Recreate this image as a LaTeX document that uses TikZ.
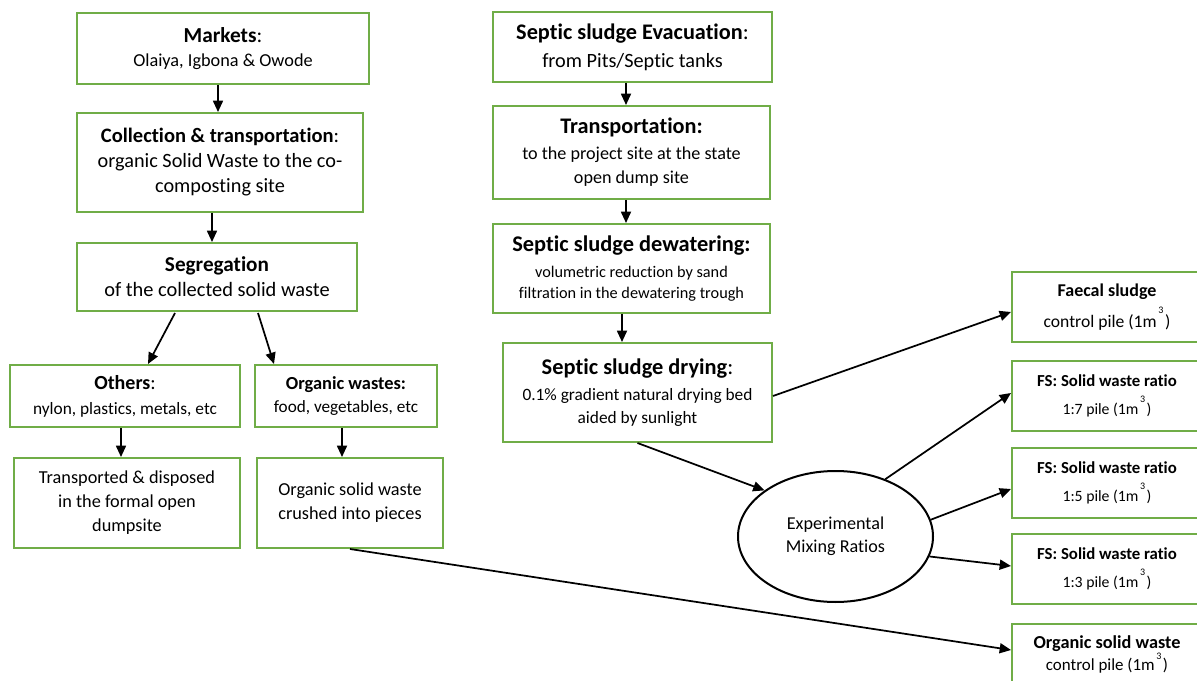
\documentclass[tikz,border=0pt]{standalone}
\usepackage{fontspec}
\setmainfont{Carlito}[RawFeature={-liga;-clig;-calt;-dlig}]
\usetikzlibrary{shapes.geometric,arrows.meta,calc}
\definecolor{boxgreen}{RGB}{112,173,71}
\newcommand\fsz[2]{\fontsize{#1}{#2}\selectfont}
\newcommand\ttl[2]{{\fontsize{#1}{#1}\selectfont\bfseries #2}}
\newcommand\ttlc[2]{{\fontsize{#1}{#1}\selectfont\textbf{#2}:}}
\newcommand\cubed[1][0.8em]{\kern1.2pt\smash{\raisebox{#1}{\fontsize{7.5}{7.5}\selectfont 3}}\kern1.2pt}
\begin{document}
\begin{tikzpicture}[x=0.75pt,y=-0.75pt,
  box/.style={draw=boxgreen, line width=1.5pt, fill=white, align=center, inner sep=0pt},
  sz/.style 2 args={minimum width=#1*0.75pt, minimum height=#2*0.75pt},
  arr/.style={-{Triangle[length=8.5pt,width=7.5pt]}, line width=1.3pt, black},
  ell/.style={draw=black, line width=1.5pt, ellipse, align=center, inner sep=0pt}]
\useasboundingbox (0,0) rectangle (1197,681);
\clip (0,0) rectangle (1197,681);
\fill[white] (0,0) rectangle (1197,681);
% left column
\node[box, sz={292}{71}, font=\fsz{13.7}{18}] (mk) at (223,48.5) {\ttlc{16}{Markets}\\ Olaiya, Igbona \& Owode};
\node[box, sz={286}{99}, font=\fsz{15.2}{18.75}] (col) at (220,162.5) {\ttlc{15.4}{Collection \& transportation}\\ organic Solid Waste to the co-\\ composting site};
\node[box, sz={280}{68}, font=\fsz{15.3}{18.75}] (seg) at (217,277) {\ttl{15.9}{Segregation}\\ of the collected solid waste};
\node[box, sz={230}{62}, font=\fsz{13}{18.75}] (oth) at (125,396) {\ttlc{15}{Others}\\ nylon, plastics, metals, etc};
\node[box, sz={182}{62}, font=\fsz{12.9}{17.25}] (orgw) at (346,396) {\ttl{13.8}{Organic wastes:}\\ food, vegetables, etc};
\node[box, sz={226}{90}, font=\fsz{13.7}{18}] (trd) at (127,503) {Transported \& disposed\\ in the formal open\\ dumpsite};
\node[box, sz={186}{90}, font=\fsz{13.7}{18}] (crs) at (350,503) {Organic solid waste\\ crushed into pieces};
% middle column
\node[box, sz={279}{70}, font=\fsz{15.2}{21}] (evac) at (632.5,47) {\ttlc{16.7}{Septic sludge Evacuation}\\ from Pits/Septic tanks};
\node[box, sz={277}{93}, font=\fsz{13.6}{18}] (tra) at (631.5,152.5) {\ttl{16.7}{Transportation:}\\[1.5pt] to the project site at the state\\ open dump site};
\node[box, sz={277}{89}, font=\fsz{12.2}{15.5}] (dew) at (631.5,268.5) {\ttl{16.8}{Septic sludge dewatering:}\\[4pt] volumetric reduction by sand\\ filtration in the dewatering trough};
\node[box, sz={269}{99}, font=\fsz{13}{17}] (dry) at (637.5,392.5) {\ttlc{16.8}{Septic sludge drying}\\[2.5pt] 0.1\% gradient natural drying bed\\ aided by sunlight};
\node[ell, minimum width=195*0.75pt, minimum height=131*0.75pt, font=\fsz{13.6}{17.25}] (ell) at (835.5,536.5) {Experimental\\ Mixing Ratios};
% right column
\node[box, sz={190}{70}, font=\fsz{13.2}{23.25}] (fae) at (1107,307) {\ttl{13.5}{Faecal sludge}\\ control pile (1m\cubed)};
\node[box, sz={190}{70}, font=\fsz{11.8}{21.5}] (fs7) at (1107,396) {\ttl{12.6}{FS: Solid waste ratio}\\ 1:7 pile (1m\cubed)};
\node[box, sz={190}{70}, font=\fsz{11.8}{21.5}] (fs5) at (1107,483) {\ttl{12.6}{FS: Solid waste ratio}\\ 1:5 pile (1m\cubed)};
\node[box, sz={190}{70}, font=\fsz{11.8}{21.5}] (fs3) at (1107,569) {\ttl{12.6}{FS: Solid waste ratio}\\ 1:3 pile (1m\cubed)};
\node[box, sz={190}{60}, font=\fsz{12.7}{16.5}] (osw) at (1107,654) {\ttl{13.7}{Organic solid waste}\\ control pile (1m\cubed[0.62em])};
% connectors
\draw[arr] ($(mk.south)+(-5,0)$) -- ($(col.north)+(-2,0)$);
\draw[arr] ($(col.south)+(-8,0)$) -- ($(seg.north)+(-5,0)$);
\draw[arr] ($(seg.south)+(-42,1)$) -- ($(oth.north)+(23,0)$);
\draw[arr] ($(seg.south)+(41,1)$) -- ($(orgw.north)+(-72,0)$);
\draw[arr] ($(oth.south)+(-4,0)$) -- ($(trd.north)+(-6,0)$);
\draw[arr] ($(orgw.south)+(-4,0)$) -- ($(crs.north)+(-8,0)$);
\draw[arr] ($(evac.south)+(-6.5,0)$) -- ($(tra.north)+(-5.5,0)$);
\draw[arr] ($(tra.south)+(-5.5,0)$) -- ($(dew.north)+(-5.5,0)$);
\draw[arr] ($(dew.south)+(-9.5,0)$) -- ($(dry.north)+(-15.5,0)$);
\draw[arr] ($(dry.east)+(0,3.5)$) -- ($(fae.west)+(0,5)$);
\draw[arr] (dry.south) -- (ell.147);
\draw[arr] (ell.49) -- ($(fs7.west)+(0,-3)$);
\draw[arr] (ell.10) -- ($(fs5.west)+(0,6)$);
\draw[arr] (ell.-12) -- ($(fs3.west)+(0,-3)$);
\draw[arr] (crs.south) -- ($(osw.west)+(0,-4)$);
\end{tikzpicture}
\end{document}
